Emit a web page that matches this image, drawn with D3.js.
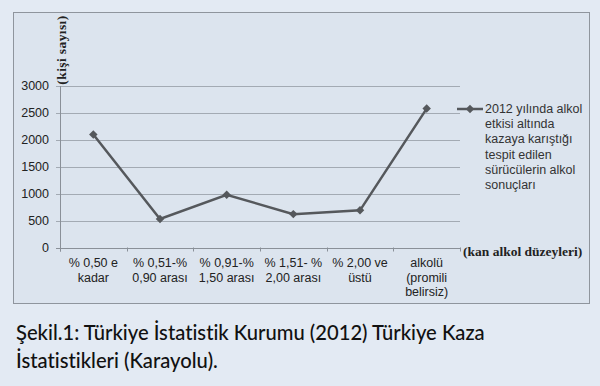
<!DOCTYPE html>
<html>
<head>
<meta charset="utf-8">
<script src="https://cdn.jsdelivr.net/npm/d3@7"></script>
<style>
  body { margin: 0; background: #e3eaf3; }
  svg { display: block; }
</style>
</head>
<body>
<div id="chart"></div>
<script>
// Data
const categories = [
  ['% 0,50 e', 'kadar'],
  ['% 0,51-%', '0,90 arası'],
  ['% 0,91-%', '1,50 arası'],
  ['% 1,51- %', '2,00 arası'],
  ['% 2,00 ve', 'üstü'],
  ['alkolü', '(promili', 'belirsiz)']
]
const values = [2100, 530, 980, 620, 690, 2580]
const yTicks = [0, 500, 1000, 1500, 2000, 2500, 3000]
const legendLines = ['2012 yılında alkol', 'etkisi altında', 'kazaya karıştığı', 'tespit edilen', 'sürücülerin alkol', 'sonuçları']
const captionLines = ['Şekil.1: Türkiye İstatistik Kurumu (2012) Türkiye Kaza', 'İstatistikleri (Karayolu).']

const width = 600
const height = 386
const plot = { left: 60, right: 460, top: 86, bottom: 247.5 }

const svg = d3.select('#chart')
  .append('svg')
  .attr('width', width)
  .attr('height', height)

// chart frame
svg.append('rect')
  .attr('x', 13.5).attr('y', 12.5)
  .attr('width', 576).attr('height', 291)
  .style('fill', '#dce4ee')
  .style('stroke', '#8f959d')
  .style('stroke-width', 1)

const x = d3.scaleBand()
  .domain(d3.range(categories.length))
  .range([plot.left, plot.right])

const y = d3.scaleLinear()
  .domain([0, 3000])
  .range([plot.bottom, plot.top])

// gridlines + y ticks
svg.selectAll('.grid')
  .data(yTicks)
  .enter()
  .append('line')
  .attr('x1', plot.left - 4)
  .attr('x2', plot.right)
  .attr('y1', d => Math.round(y(d)) + 0.5)
  .attr('y2', d => Math.round(y(d)) + 0.5)
  .style('stroke', d => d === 0 ? '#8a9098' : '#a3aab3')
  .style('stroke-width', 1)

svg.selectAll('.ylab')
  .data(yTicks)
  .enter()
  .append('text')
  .attr('x', 49)
  .attr('y', d => y(d))
  .attr('dy', '0.35em')
  .attr('text-anchor', 'end')
  .style('font-family', 'Liberation Sans, Arial, sans-serif')
  .style('font-size', '12.5px')
  .style('fill', '#222')
  .text(d => d)

// y axis line
svg.append('line')
  .attr('x1', plot.left + 0.5).attr('x2', plot.left + 0.5)
  .attr('y1', plot.top).attr('y2', plot.bottom + 4)
  .style('stroke', '#8a9098')

// x ticks at band edges
const edges = d3.range(categories.length + 1).map(i => i < categories.length ? x(i) : plot.right)
svg.selectAll('.xtick')
  .data(edges)
  .enter()
  .append('line')
  .attr('x1', d => Math.round(d) + 0.5)
  .attr('x2', d => Math.round(d) + 0.5)
  .attr('y1', plot.bottom)
  .attr('y2', plot.bottom + 4)
  .style('stroke', '#8a9098')

// category labels
const catText = svg.selectAll('.xlab')
  .data(categories)
  .enter()
  .append('text')
  .attr('text-anchor', 'middle')
  .style('font-family', 'Liberation Sans, Arial, sans-serif')
  .style('font-size', '12.5px')
  .style('fill', '#222')

catText.selectAll('tspan')
  .data((d, i) => d.map(t => ({ t, i })))
  .enter()
  .append('tspan')
  .attr('x', d => x(d.i) + x.bandwidth() / 2)
  .attr('y', (d, j) => 267 + j * 14.5)
  .text(d => d.t)

// axis titles
svg.append('text')
  .attr('transform', 'translate(66,50) rotate(-90)')
  .attr('text-anchor', 'middle')
  .style('font-family', 'Liberation Serif, Times New Roman, serif')
  .style('font-weight', 'bold')
  .style('font-size', '13.5px')
  .style('letter-spacing', '0.4px')
  .style('fill', '#222')
  .text('(kişi  sayısı)')

svg.append('text')
  .attr('x', 463)
  .attr('y', 256)
  .style('font-family', 'Liberation Serif, Times New Roman, serif')
  .style('font-weight', 'bold')
  .style('font-size', '13.5px')
  .style('fill', '#222')
  .text('(kan alkol  düzeyleri)')

// series line
const line = d3.line()
  .x((d, i) => x(i) + x.bandwidth() / 2)
  .y(d => y(d))

svg.append('path')
  .datum(values)
  .attr('d', line)
  .style('fill', 'none')
  .style('stroke', '#55585c')
  .style('stroke-width', 2.5)

const diamond = d3.symbol().type(d3.symbolSquare).size(36)

svg.selectAll('.pt')
  .data(values)
  .enter()
  .append('path')
  .attr('d', diamond)
  .attr('transform', (d, i) => `translate(${x(i) + x.bandwidth() / 2},${y(d)}) rotate(45)`)
  .style('fill', '#55585c')

// legend
svg.append('line')
  .attr('x1', 457).attr('x2', 483)
  .attr('y1', 109).attr('y2', 109)
  .style('stroke', '#55585c')
  .style('stroke-width', 2.5)
svg.append('path')
  .attr('d', diamond)
  .attr('transform', 'translate(470,109) rotate(45)')
  .style('fill', '#55585c')

svg.append('text')
  .style('font-family', 'Liberation Sans, Arial, sans-serif')
  .style('font-size', '12.5px')
  .style('fill', '#333')
  .selectAll('tspan')
  .data(legendLines)
  .enter()
  .append('tspan')
  .attr('x', 485)
  .attr('y', (d, i) => 113 + i * 15.2)
  .text(d => d)

// caption
svg.append('text')
  .style('font-family', 'Lato, sans-serif')
  .style('font-size', '20.2px')
  .style('font-weight', '500')
  .style('font-variant-ligatures', 'none')
  .style('fill', '#111')
  .selectAll('tspan')
  .data(captionLines)
  .enter()
  .append('tspan')
  .attr('x', 16)
  .attr('y', (d, i) => 340 + i * 28)
  .text(d => d)
</script>
</body>
</html>
